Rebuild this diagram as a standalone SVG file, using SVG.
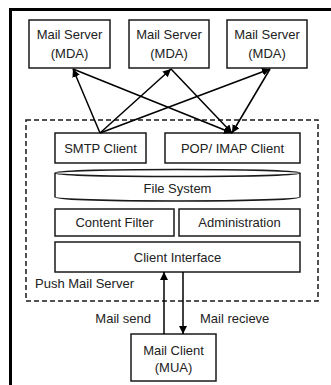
<svg xmlns="http://www.w3.org/2000/svg" width="331" height="385" viewBox="0 0 331 385">
<style>
.box{fill:#fff;stroke:#1a1a1a;stroke-width:1.5}
.t{font-family:"Liberation Sans",Arial,sans-serif;font-size:13px;fill:#222;text-anchor:middle}
.l{text-anchor:start}
.e{text-anchor:end}
.c{stroke:#000;stroke-width:1.5;fill:none;marker-end:url(#ah)}
</style>
<defs>
<marker id="ah" viewBox="0 0 10 10" refX="10" refY="5" markerWidth="8" markerHeight="8" markerUnits="userSpaceOnUse" orient="auto">
<path d="M0,0 L10,5 L0,10 Z" fill="#000"/>
</marker>
</defs>
<rect width="331" height="385" fill="#fff"/>
<path d="M10.5,385 V9.5 H331" fill="none" stroke="#000" stroke-width="3"/>
<g id="push-mail-server">
<rect x="26" y="120" width="292" height="181" fill="none" stroke="#1a1a1a" stroke-width="1.5" stroke-dasharray="5,3"/>
<text class="t l" x="35" y="288">Push Mail Server</text>
</g>
<g id="server1"><rect class="box" x="29" y="20" width="81" height="48"/><text class="t" x="69.5" y="39">Mail Server</text><text class="t" x="69.5" y="58">(MDA)</text></g>
<g id="server2"><rect class="box" x="129" y="20" width="80" height="48"/><text class="t" x="169" y="39">Mail Server</text><text class="t" x="169" y="58">(MDA)</text></g>
<g id="server3"><rect class="box" x="227" y="20" width="80" height="48"/><text class="t" x="267" y="39">Mail Server</text><text class="t" x="267" y="58">(MDA)</text></g>
<g id="smtp"><rect class="box" x="55" y="133" width="91" height="30"/><text class="t" x="100.5" y="153">SMTP Client</text></g>
<g id="pop"><rect class="box" x="165" y="133" width="135" height="30"/><text class="t" x="232.5" y="153">POP/ IMAP Client</text></g>
<g id="filesystem">
<path class="box" d="M55,173 V197 A122.5,4 0 0 0 300,197 V173"/>
<ellipse class="box" cx="177.5" cy="173" rx="122.5" ry="3.5"/>
<text class="t" x="177.5" y="193">File System</text>
</g>
<g id="contentfilter"><rect class="box" x="55" y="209" width="119" height="27"/><text class="t" x="114.5" y="227">Content Filter</text></g>
<g id="admin"><rect class="box" x="179" y="209" width="121" height="27"/><text class="t" x="239.5" y="227">Administration</text></g>
<g id="clientinterface"><rect class="box" x="55" y="242" width="245" height="30"/><text class="t" x="177.5" y="262">Client Interface</text></g>
<g id="mailclient"><rect class="box" x="131" y="334" width="85" height="47"/><text class="t" x="173.5" y="355">Mail Client</text><text class="t" x="173.5" y="372">(MUA)</text></g>
<g id="connectors">
<line class="c" x1="100" y1="133" x2="73" y2="69"/>
<line class="c" x1="100" y1="133" x2="171" y2="69"/>
<line class="c" x1="100" y1="133" x2="270" y2="69"/>
<line class="c" x1="73" y1="69" x2="232" y2="133"/>
<line class="c" x1="171" y1="69" x2="232" y2="133"/>
<line class="c" x1="270" y1="69" x2="232" y2="133"/>
<line class="c" x1="164" y1="334" x2="164" y2="272"/>
<line class="c" x1="183" y1="272" x2="183" y2="334"/>
<text class="t e" x="151" y="323">Mail send</text>
<text class="t l" x="200" y="323">Mail recieve</text>
</g>
</svg>
